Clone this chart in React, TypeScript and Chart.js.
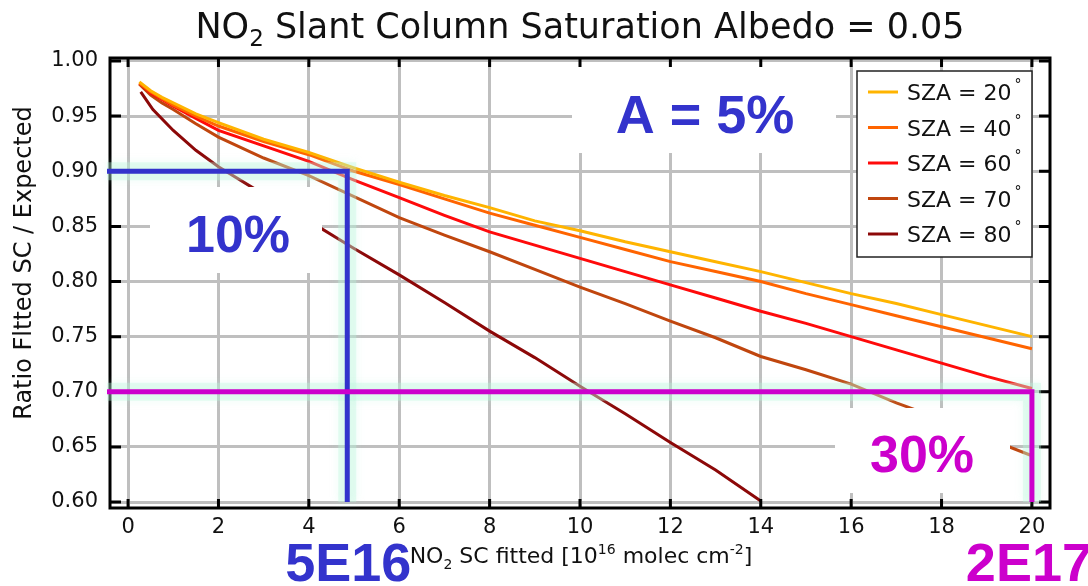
import React, { useEffect, useRef } from 'react';
import { Chart, registerables } from 'chart.js';

Chart.register(...registerables);

// ---- data ----
const xFit = [0.25, 0.5, 0.75, 1, 1.5, 2, 3, 4, 5, 6, 7, 8, 9, 10, 11, 12, 13, 14, 15, 16, 17, 18, 19, 20];
const sza20 = [0.981, 0.973, 0.967, 0.962, 0.952, 0.944, 0.929, 0.917, 0.903, 0.890, 0.878, 0.867, 0.855, 0.846, 0.836, 0.827, 0.818, 0.809, 0.799, 0.789, 0.780, 0.770, 0.760, 0.750];
const sza40 = [0.980, 0.972, 0.966, 0.960, 0.950, 0.941, 0.927, 0.915, 0.900, 0.888, 0.875, 0.862, 0.851, 0.840, 0.829, 0.818, 0.809, 0.800, 0.789, 0.779, 0.769, 0.759, 0.749, 0.739];
const sza60 = [0.980, 0.971, 0.965, 0.959, 0.948, 0.937, 0.923, 0.909, 0.892, 0.876, 0.860, 0.845, 0.833, 0.821, 0.809, 0.797, 0.785, 0.773, 0.762, 0.750, 0.738, 0.726, 0.714, 0.703];
const sza70 = [0.979, 0.969, 0.962, 0.956, 0.943, 0.931, 0.912, 0.896, 0.877, 0.858, 0.842, 0.827, 0.811, 0.795, 0.780, 0.764, 0.749, 0.732, 0.720, 0.707, 0.690, 0.675, 0.658, 0.642];
const x80 = [0.28, 0.55, 1, 1.5, 2, 3, 4, 5, 6, 7, 8, 9, 10, 11, 12, 13, 14];
const sza80 = [0.972, 0.956, 0.937, 0.919, 0.904, 0.879, 0.855, 0.830, 0.806, 0.781, 0.755, 0.731, 0.705, 0.680, 0.654, 0.629, 0.601];

const seriesLabels = ['SZA = 20', 'SZA = 40', 'SZA = 60', 'SZA = 70', 'SZA = 80'];
const seriesColors = ['#ffb400', '#ff6400', '#ff0a0a', '#c0460e', '#8c0808'];

const xTickValues = [0, 2, 4, 6, 8, 10, 12, 14, 16, 18, 20];
const yTickValues = [0.6, 0.65, 0.7, 0.75, 0.8, 0.85, 0.9, 0.95, 1.0];
const xRange = [-0.4, 20.4];
const yRange = [0.5946, 1.0027];

const titleMain = 'NO';
const titleSub = '2';
const titleRest = ' Slant Column Saturation Albedo = 0.05';
const yTitle = 'Ratio Fltted SC / Expected';

// guide annotations (data coordinates)
const guideA = { x: 4.85, y: 0.9, yEnd: 0.6, label: '10%', axisLabel: '5E16', color: '#3333cc' };
const guideB = { x: 20, y: 0.7, yEnd: 0.6, label: '30%', axisLabel: '2E17', color: '#cc00cc' };
const albedoLabel = 'A = 5%';

type Run = { t: string; scale?: number; dy?: number };

function drawRuns(ctx: CanvasRenderingContext2D, runs: Run[], cx: number, baseline: number, size: number, family: string, color: string, weight = '') {
  const fontFor = (r: Run) => `${weight} ${Math.round(size * (r.scale ?? 1))}px ${family}`;
  const widths = runs.map((r) => {
    ctx.font = fontFor(r);
    return ctx.measureText(r.t).width;
  });
  const total = widths.reduce((a, b) => a + b, 0);
  let xx = cx - total / 2;
  ctx.fillStyle = color;
  ctx.textAlign = 'left';
  ctx.textBaseline = 'alphabetic';
  runs.forEach((r, i) => {
    ctx.font = fontFor(r);
    ctx.fillText(r.t, xx, baseline + (r.dy ?? 0) * size);
    xx += widths[i];
  });
}

const FAMILY = '"DejaVu Sans", sans-serif';
const BOLD_FAMILY = '"Liberation Sans", Arial, sans-serif';

const overlay = {
  id: 'overlay',
  afterDatasetsDraw(chart: any) {
    const { ctx, chartArea: ca, scales } = chart;
    const x = scales.x;
    const y = scales.y;
    ctx.save();

    // white label backgrounds (as in the annotated slide)
    ctx.fillStyle = '#ffffff';
    ctx.fillRect(572, 62, 264, 91);
    ctx.fillRect(150, 187, 172, 86);
    ctx.fillRect(835, 408, 175, 85);

    // frame
    ctx.strokeStyle = '#000';
    ctx.lineWidth = 3;
    ctx.strokeRect(ca.left, ca.top, ca.right - ca.left, ca.bottom - ca.top);

    // inward tick marks
    ctx.lineWidth = 3;
    ctx.beginPath();
    xTickValues.forEach((v) => {
      const px = x.getPixelForValue(v);
      ctx.moveTo(px, ca.bottom);
      ctx.lineTo(px, ca.bottom - 9);
      ctx.moveTo(px, ca.top);
      ctx.lineTo(px, ca.top + 9);
    });
    yTickValues.forEach((v) => {
      const py = y.getPixelForValue(v);
      ctx.moveTo(ca.left, py);
      ctx.lineTo(ca.left + 11, py);
      ctx.moveTo(ca.right, py);
      ctx.lineTo(ca.right - 11, py);
    });
    ctx.stroke();

    // guide lines with soft glow
    const guidePath = (g: typeof guideA) => {
      const px = x.getPixelForValue(g.x);
      const py = y.getPixelForValue(g.y);
      const pyEnd = y.getPixelForValue(g.yEnd);
      ctx.beginPath();
      ctx.moveTo(ca.left - 3, py);
      ctx.lineTo(px, py);
      ctx.lineTo(px, pyEnd);
    };
    [guideA, guideB].forEach((g) => {
      ctx.save();
      ctx.lineCap = 'butt';
      ctx.lineJoin = 'miter';
      ctx.strokeStyle = 'rgba(190,245,220,0.35)';
      ctx.lineWidth = 18;
      ctx.shadowColor = 'rgba(170,240,210,0.6)';
      ctx.shadowBlur = 8;
      guidePath(g);
      ctx.stroke();
      ctx.restore();
    });
    [guideA, guideB].forEach((g) => {
      ctx.save();
      ctx.strokeStyle = g.color;
      ctx.lineWidth = 5;
      ctx.lineJoin = 'miter';
      guidePath(g);
      ctx.stroke();
      ctx.restore();
    });

    // bold annotation text
    drawRuns(ctx, [{ t: albedoLabel }], 705, 133, 54, BOLD_FAMILY, guideA.color, 'bold');
    drawRuns(ctx, [{ t: guideA.label }], 238, 252, 52, BOLD_FAMILY, guideA.color, 'bold');
    drawRuns(ctx, [{ t: guideB.label }], 922, 472, 52, BOLD_FAMILY, guideB.color, 'bold');

    // title
    drawRuns(ctx, [{ t: titleMain }, { t: titleSub, scale: 0.65, dy: 0.22 }, { t: titleRest }], 580, 38, 35, FAMILY, '#111');

    // x title
    drawRuns(
      ctx,
      [
        { t: 'NO' },
        { t: '2', scale: 0.65, dy: 0.25 },
        { t: ' SC fitted [10' },
        { t: '16', scale: 0.65, dy: -0.4 },
        { t: ' molec cm' },
        { t: '-2', scale: 0.65, dy: -0.4 },
        { t: ']' },
      ],
      581, 563, 22, FAMILY, '#111'
    );

    // y title
    ctx.save();
    ctx.translate(31, 263);
    ctx.rotate(-Math.PI / 2);
    drawRuns(ctx, [{ t: yTitle }], 0, 0, 24, FAMILY, '#111');
    ctx.restore();

    // axis value annotations
    drawRuns(ctx, [{ t: guideA.axisLabel }], x.getPixelForValue(guideA.x) + 1, 581, 54, BOLD_FAMILY, guideA.color, 'bold');
    drawRuns(ctx, [{ t: guideB.axisLabel }], x.getPixelForValue(guideB.x) - 3, 581, 54, BOLD_FAMILY, guideB.color, 'bold');

    // legend
    const lx = 857, ly = 71, lw = 175, lh = 186;
    ctx.fillStyle = '#fff';
    ctx.fillRect(lx, ly, lw, lh);
    ctx.strokeStyle = '#222';
    ctx.lineWidth = 1.5;
    ctx.strokeRect(lx, ly, lw, lh);
    seriesLabels.forEach((lab, i) => {
      const cy = 92 + i * 35.5;
      ctx.strokeStyle = seriesColors[i];
      ctx.lineWidth = 3;
      ctx.beginPath();
      ctx.moveTo(868, cy);
      ctx.lineTo(898, cy);
      ctx.stroke();
      ctx.fillStyle = '#111';
      ctx.font = `22px ${FAMILY}`;
      ctx.textAlign = 'left';
      ctx.textBaseline = 'alphabetic';
      ctx.fillText(lab, 907, cy + 8);
      const w = ctx.measureText(lab).width;
      ctx.font = `14px ${FAMILY}`;
      ctx.fillText('°', 907 + w + 3, cy - 3);
    });

    ctx.restore();
  },
};

export default function App() {
  const ref = useRef<HTMLCanvasElement>(null);
  useEffect(() => {
    const mk = (xs: number[], ys: number[]) => xs.map((v, i) => ({ x: v, y: ys[i] }));
    const seriesData = [mk(xFit, sza20), mk(xFit, sza40), mk(xFit, sza60), mk(xFit, sza70), mk(x80, sza80)];
    const chart = new Chart(ref.current as HTMLCanvasElement, {
      type: 'line',
      data: {
        datasets: seriesLabels.map((lab, i) => ({
          label: lab + '°',
          data: seriesData[i],
          borderColor: seriesColors[i],
          backgroundColor: seriesColors[i],
          borderWidth: 3,
          pointRadius: 0,
          tension: 0,
          fill: false,
        })),
      },
      options: {
        animation: false,
        responsive: false,
        events: [],
        layout: { padding: { top: 58, right: 38, left: 0, bottom: 0 } },
        plugins: { legend: { display: false }, title: { display: false }, tooltip: { enabled: false } },
        scales: {
          x: {
            type: 'linear',
            min: xRange[0],
            max: xRange[1],
            afterBuildTicks: (s: any) => {
              s.ticks = xTickValues.map((v) => ({ value: v }));
            },
            afterFit: (s: any) => {
              s.height = 78;
            },
            grid: { color: '#bfbfbf', lineWidth: 3, drawTicks: false },
            border: { display: false },
            ticks: {
              color: '#111',
              padding: 7,
              maxRotation: 0,
              autoSkip: false,
              font: { family: FAMILY, size: 21 },
              callback: (v: any) => String(Math.round(Number(v))),
            },
          },
          y: {
            type: 'linear',
            min: yRange[0],
            max: yRange[1],
            afterBuildTicks: (s: any) => {
              s.ticks = yTickValues.map((v) => ({ value: v }));
            },
            afterFit: (s: any) => {
              s.width = 110;
            },
            grid: { color: '#bfbfbf', lineWidth: 3, drawTicks: false },
            border: { display: false },
            ticks: {
              color: '#111',
              padding: 12,
              autoSkip: false,
              font: { family: FAMILY, size: 21 },
              callback: (v: any) => Number(v).toFixed(2),
            },
          },
        },
      },
      plugins: [overlay],
    } as any);
    return () => chart.destroy();
  }, []);
  return (
    <div style={{ position: 'absolute', left: 0, top: 0, width: 1088, height: 586, background: '#fff' }}>
      <canvas ref={ref} width={1088} height={586} style={{ width: 1088, height: 586, display: 'block' }} />
    </div>
  );
}
